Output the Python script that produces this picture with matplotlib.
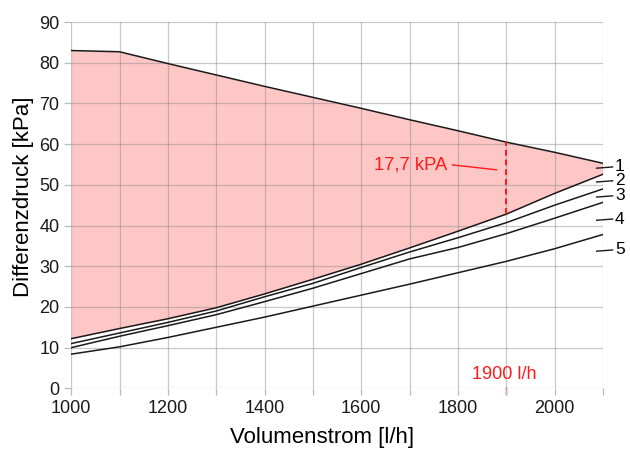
import matplotlib
matplotlib.use("Agg")
import matplotlib.pyplot as plt

plt.rcParams['font.family'] = ['Liberation Sans', 'DejaVu Sans']

# volume flow [l/h]
flow = [1000, 1100, 1200, 1300, 1400, 1500, 1600, 1700, 1800, 1900, 2000, 2100]

# upper limit of the working range [kPa]
upper = [83.0, 82.7, 79.8, 77.0, 74.2, 71.5, 68.8, 66.0, 63.3, 60.5, 58.0, 55.3]

# pump curves [kPa]
curve_a = [12.2, 14.7, 17.1, 19.8, 23.2, 26.8, 30.5, 34.5, 38.6, 42.8, 47.9, 52.6]
curve_b = [11.0, 13.6, 16.2, 19.0, 22.5, 25.8, 29.7, 33.5, 37.0, 40.7, 45.0, 49.0]
curve_c = [10.0, 12.8, 15.4, 18.1, 21.3, 24.6, 28.2, 31.8, 34.6, 38.0, 41.8, 45.7]
curve_d = [8.4, 10.2, 12.5, 15.0, 17.5, 20.2, 22.9, 25.6, 28.4, 31.2, 34.3, 37.8]

# curve labels at the right edge
curve_names = ["1", "2", "3", "4", "5"]
label_y = [54.1, 50.7, 47.0, 41.3, 33.7]

# operating point
op_flow = 1900
op_low = 42.8
op_high = 60.5
op_text = "17,7 kPA"
flow_text = "1900 l/h"

red = "#ff1a1a"

fig = plt.figure(figsize=(6.3, 4.5), dpi=100)
ax = fig.add_axes([0.113, 0.137, 0.844, 0.814])

ax.fill_between(flow, curve_a, upper, color="#ffc6c6", lw=0, zorder=1)
ax.plot(flow, upper, color="#1a1a1a", lw=1.1, zorder=3)
for c in (curve_a, curve_b, curve_c, curve_d):
    ax.plot(flow, c, color="#1a1a1a", lw=1.1, zorder=3)

# dashed marker for the operating point
ax.plot([op_flow, op_flow], [op_low, op_high], color=red, lw=1.4,
        ls=(0, (3, 2)), zorder=4)
ax.plot([1789, 1880], [54.9, 53.7], color=red, lw=1.0, zorder=4)
ax.text(1777, 54.9, op_text, color=red, fontsize=13.2, ha="right",
        va="center", zorder=4)
ax.text(1895, 3.3, flow_text, color=red, fontsize=13, ha="center",
        va="center", zorder=4)
ax.plot([op_flow, op_flow], [0, -1.5], color=red, lw=1.0, clip_on=False)

# curve numbers with short leader lines
for name, y in zip(curve_names, label_y):
    ax.plot([2087, 2120], [y, y + 0.3], color="#1a1a1a", lw=1.0,
            clip_on=False)
    ax.text(2125, y + 0.3, name, fontsize=12.5, ha="left", va="center",
            clip_on=False)

ax.set_xlim(1000, 2100)
ax.set_ylim(0, 90)
ax.set_xticks(range(1000, 2101, 100))
ax.set_xticklabels([str(v) if v % 200 == 0 else "" for v in range(1000, 2101, 100)])
ax.set_yticks(range(0, 91, 10))
ax.grid(True, color="#888888", alpha=0.45, lw=0.9, zorder=2)
ax.set_axisbelow(False)
for s in ax.spines.values():
    s.set_visible(False)
ax.tick_params(axis="both", colors="#bbbbbb", labelcolor="#1a1a1a",
               labelsize=13, length=5, width=0.9)

ax.set_xlabel("Volumenstrom [l/h]", fontsize=16)
ax.xaxis.set_label_coords(0.472, -0.105)
ax.set_ylabel("Differenzdruck [kPa]", fontsize=16)
ax.yaxis.set_label_coords(-0.07, 0.522)

fig.savefig("out.png", dpi=100)
